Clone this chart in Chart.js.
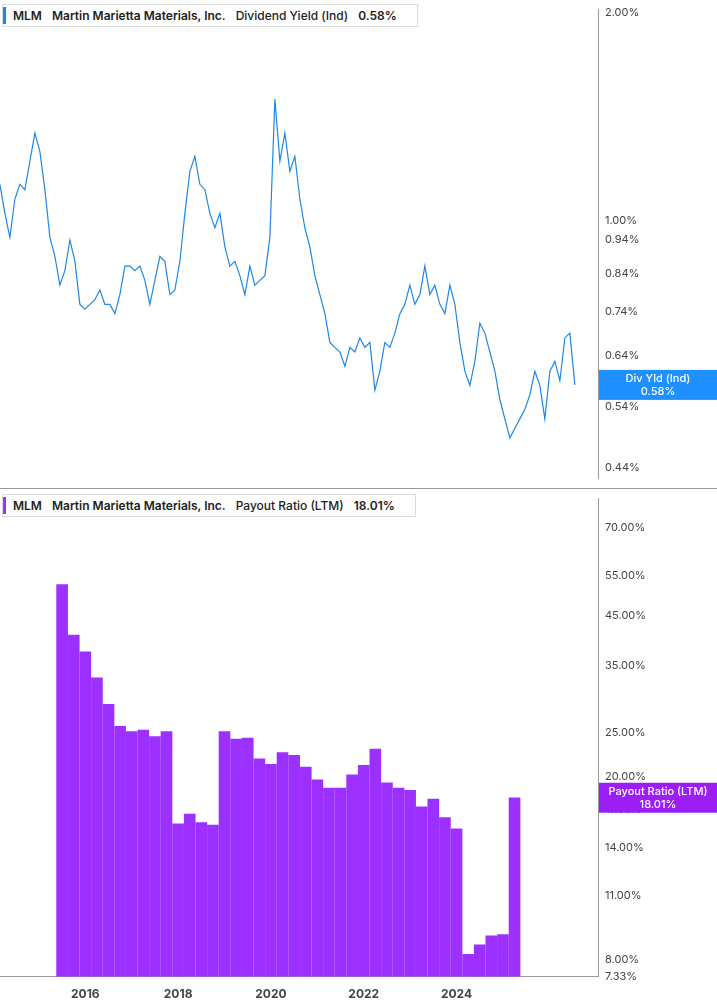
<!DOCTYPE html>
<html><head><meta charset="utf-8">
<script src="https://cdn.jsdelivr.net/npm/chart.js@4/dist/chart.umd.min.js"></script>
<style>
body{margin:0;background:#fff;font-family:Inter,"Noto Sans",sans-serif;}
.wrap{position:absolute;left:0;width:717px;}
canvas{display:block}
.leg{position:absolute;left:2px;top:4px;background:#fff;border:1px solid #ddd;padding:3px 10px 3px 10px;font-size:12px;font-weight:600;color:#222;white-space:nowrap;z-index:2}
.leg span{margin-right:10px}
.leg:before{content:"";position:absolute;left:0;top:2px;bottom:2px;width:3px}
#l1:before{background:#1e88e5}#l2:before{background:#9b30ff}
</style></head><body>
<div class="wrap" style="top:0;height:488px;border-bottom:1px solid #999"><canvas id="c1" width="717" height="488" style="width:717px;height:488px"></canvas>
<div class="leg" id="l1"><span>MLM</span><span>Martin Marietta Materials, Inc.</span><span style="font-weight:500">Dividend Yield (Ind)</span><span>0.58%</span></div></div>
<div class="wrap" style="top:489px;height:516px"><canvas id="c2" width="717" height="516" style="width:717px;height:516px"></canvas>
<div class="leg" id="l2" style="top:5px"><span>MLM</span><span>Martin Marietta Materials, Inc.</span><span style="font-weight:500">Payout Ratio (LTM)</span><span>18.01%</span></div></div>
<script>
const yieldStart = 2015.448, yieldStep = 0.0862;
const yieldValues = [1.13,1.026,0.947,1.076,1.13,1.11,1.22,1.34,1.26,1.11,0.947,0.889,0.808,0.848,0.939,0.875,0.758,0.746,0.758,0.770,0.795,0.758,0.758,0.735,0.783,0.861,0.861,0.848,0.861,0.821,0.758,0.821,0.889,0.875,0.783,0.795,0.875,1.026,1.18,1.24,1.13,1.11,1.026,0.978,1.026,0.918,0.861,0.875,0.834,0.783,0.861,0.808,0.821,0.834,0.947,1.50,1.22,1.34,1.18,1.24,1.076,0.978,0.918,0.834,0.783,0.735,0.668,0.657,0.647,0.617,0.657,0.647,0.678,0.657,0.668,0.570,0.607,0.668,0.657,0.689,0.735,0.758,0.808,0.758,0.783,0.861,0.783,0.808,0.758,0.735,0.808,0.758,0.668,0.607,0.579,0.627,0.712,0.689,0.647,0.607,0.552,0.518,0.486,0.502,0.518,0.535,0.561,0.607,0.579,0.518,0.607,0.627,0.588,0.678,0.689,0.58];
const payoutStart = 2015.5, payoutStep = 0.25;
const payoutValues = [52.6,40.8,37.5,32.9,28.8,25.8,25.1,25.3,24.5,25.1,15.8,16.6,15.9,15.7,25.1,24.2,24.3,21.9,21.3,22.6,22.3,21.0,19.7,18.9,18.9,20.2,21.2,23.0,19.4,18.9,18.7,17.2,17.9,16.3,15.4,8.2,8.6,9.0,9.05,18.01];
const yieldTicks = [2.00,1.00,0.94,0.84,0.74,0.64,0.54,0.44];
const payoutTicks = [70,55,45,35,25,20,17,14,11,8,7.33];
const yearTicks = [2016,2018,2020,2022,2024];
const X_MIN = 2015.45, X_MAX = 2025.76;

const badge = {id:'badge',afterDraw(ch,a,o){
  const y=ch.scales.y.getPixelForValue(o.value), c=ch.ctx, x=ch.chartArea.right+1, w=ch.width-x;
  c.save();c.fillStyle=o.color;c.fillRect(x,y-15,w,30);
  c.fillStyle='#fff';c.font='500 11px Inter';c.textAlign='center';c.textBaseline='middle';
  c.fillText(o.l1,x+w/2,y-6);c.fillText(o.l2,x+w/2,y+7);c.restore();}};

function yAxis(min,max,ticks){return {type:'logarithmic',position:'right',min,max,
  afterFit(s){s.width=119;},afterBuildTicks(s){s.ticks=ticks.map(v=>({value:v}));},
  grid:{display:false,drawTicks:true,tickLength:4,color:'#999'},border:{display:true,color:'#999'},
  ticks:{color:'#444',font:{size:11,family:'Inter'},padding:3,autoSkip:false,callback:v=>v.toFixed(2)+'%'}};}

new Chart(document.getElementById('c1'),{type:'line',
 data:{datasets:[{data:yieldValues.map((v,i)=>({x:yieldStart+i*yieldStep,y:v})),borderColor:'#1e88e5',borderWidth:1.2,pointRadius:0,tension:0}]},
 options:{responsive:false,animation:false,devicePixelRatio:1,layout:{padding:0},
  plugins:{legend:{display:false},tooltip:{enabled:false},badge:{value:0.58,color:'#1e90ff',l1:'Div Yld (Ind)',l2:'0.58%'}},
  scales:{x:{type:'linear',min:X_MIN,max:X_MAX,display:false},y:yAxis(0.425,2.02,yieldTicks)}},plugins:[badge]});
new Chart(document.getElementById('c2'),{type:'bar',
 data:{datasets:[{data:payoutValues.map((v,i)=>({x:payoutStart+i*payoutStep,y:v})),backgroundColor:'#9b30ff',barThickness:11}]},
 options:{responsive:false,animation:false,devicePixelRatio:1,layout:{padding:0},
  plugins:{legend:{display:false},tooltip:{enabled:false},badge:{value:18.01,color:'#9b1ff5',l1:'Payout Ratio (LTM)',l2:'18.01%'}},
  scales:{x:{type:'linear',min:X_MIN,max:X_MAX,afterBuildTicks(s){s.ticks=yearTicks.map(v=>({value:v}));},
    grid:{display:false},border:{display:true,color:'#999'},
    ticks:{color:'#444',font:{size:12,weight:'bold',family:'Inter'},callback:v=>String(v),maxRotation:0}},
   y:yAxis(7.33,81,payoutTicks)}},plugins:[badge]});
</script>
</body></html>
